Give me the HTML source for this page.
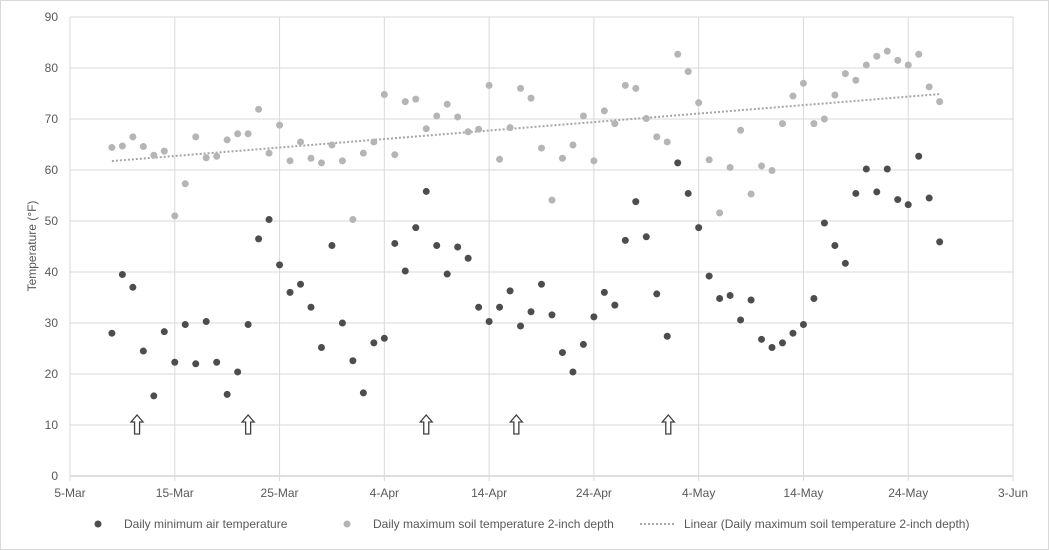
<!DOCTYPE html>
<html><head><meta charset="utf-8"><style>
html,body{margin:0;padding:0;background:#fff;}
svg{display:block;font-family:"Liberation Sans",sans-serif;}
</style></head><body>
<svg id="chart" width="1049" height="550">
<rect x="0.5" y="0.5" width="1048" height="549" fill="#fff" stroke="#d9d9d9"/>
<g id="grid"></g><g id="axes"></g><g id="marks"></g>
<text transform="translate(36,246) rotate(-90)" text-anchor="middle" font-size="12" fill="#595959">Temperature (°F)</text>
<g font-size="12" fill="#595959">
<g><circle cx="98" cy="524" r="3.5" fill="#4d4d4d"/><text x="124" y="528">Daily minimum air temperature</text></g>
<g><circle cx="347" cy="524" r="3.5" fill="#b5b5b5"/><text x="373" y="528">Daily maximum soil temperature 2-inch depth</text></g>
<g><line x1="640" y1="524" x2="675" y2="524" stroke="#a6a6a6" stroke-width="2" stroke-dasharray="2,2"/><text x="684" y="528">Linear (Daily maximum soil temperature 2-inch depth)</text></g>
</g>
</svg>
<script>
const yTicks=[0,10,20,30,40,50,60,70,80,90];
const xTickDays=[0,10,20,30,40,50,60,70,80,90];
const xTickLabels=["5-Mar","15-Mar","25-Mar","4-Apr","14-Apr","24-Apr","4-May","14-May","24-May","3-Jun"];
const firstDay=4;
const minAir=[28,39.5,37,24.5,15.7,28.3,22.3,29.7,22,30.3,22.3,16,20.4,29.7,46.5,50.3,41.4,36,37.6,33.1,25.2,45.2,30,22.6,16.3,26.1,27,45.6,40.2,48.7,55.8,45.2,39.6,44.9,42.7,33.1,30.3,33.1,36.3,29.4,32.2,37.6,31.6,24.2,20.4,25.8,31.2,36,33.5,46.2,53.8,46.9,35.7,27.4,61.4,55.4,48.7,39.2,34.8,35.4,30.6,34.5,26.8,25.2,26.1,28,29.7,34.8,49.6,45.2,41.7,55.4,60.2,55.7,60.2,54.2,53.2,62.7,54.5,45.9];
const maxSoil=[64.4,64.7,66.5,64.6,62.9,63.7,51,57.3,66.5,62.4,62.7,65.9,67.1,67.1,71.9,63.3,68.8,61.8,65.5,62.3,61.4,64.9,61.8,50.3,63.3,65.5,74.8,63,73.4,73.9,68.1,70.6,72.9,70.4,67.5,68,76.6,62.1,68.3,76,74.1,64.3,54.1,62.3,64.9,70.6,61.8,71.6,69.1,76.6,76,70.1,66.5,65.5,82.7,79.3,73.2,62,51.6,60.5,67.8,55.3,60.8,59.9,69.1,74.5,77,69.1,70,74.7,78.9,77.6,80.6,82.3,83.3,81.5,80.6,82.7,76.3,73.4];
const arrowDays=[6.4,17,34,42.6,57.1];
const arrowValue=10;
const NS="http://www.w3.org/2000/svg";
const X0=70,X1=1013,Y0=476,Y1=17;
const xs=d=>X0+(X1-X0)*d/90;
const ys=v=>Y0-(Y0-Y1)*v/90;
function mk(tag,attrs,parent){const e=document.createElementNS(NS,tag);for(const k in attrs)e.setAttribute(k,attrs[k]);parent.appendChild(e);return e;}
const grid=document.getElementById('grid'),axes=document.getElementById('axes'),marks=document.getElementById('marks');
yTicks.forEach(v=>{
 const l=mk('line',{x1:X0,x2:X1,y1:ys(v),y2:ys(v),stroke:v===0?'#bfbfbf':'#d9d9d9','stroke-width':1},grid);
 
 
 const t=mk('text',{x:58,y:ys(v)+4,'text-anchor':'end','font-size':12,fill:'#595959'},axes);
 t.textContent=v;
 
 
});
xTickDays.forEach((d,i)=>{
 const l=mk('line',{x1:xs(d),x2:xs(d),y1:Y1,y2:Y0+5,stroke:'#d9d9d9','stroke-width':1},grid);
 
 
 const t=mk('text',{x:xs(d),y:497,'text-anchor':'middle','font-size':12,fill:'#595959'},axes);
 t.textContent=xTickLabels[i];
 
 
});
// trendline via regression
let n=maxSoil.length,sx=0,sy=0,sxy=0,sxx=0;
maxSoil.forEach((v,i)=>{const d=firstDay+i;sx+=d;sy+=v;sxy+=d*v;sxx+=d*d;});
const slope=(n*sxy-sx*sy)/(n*sxx-sx*sx),icpt=(sy-slope*sx)/n;
const dA=firstDay,dB=firstDay+n-1;
const tl=mk('line',{x1:xs(dA),y1:ys(icpt+slope*dA),x2:xs(dB),y2:ys(icpt+slope*dB),stroke:'#a6a6a6','stroke-width':2,'stroke-dasharray':'2,2'},marks);


maxSoil.forEach((v,i)=>{
 const c=mk('circle',{cx:xs(firstDay+i),cy:ys(v),r:3.5,fill:'#b5b5b5'},marks);
 
 
});
minAir.forEach((v,i)=>{
 const c=mk('circle',{cx:xs(firstDay+i),cy:ys(v),r:3.5,fill:'#4d4d4d'},marks);
 
 
});
arrowDays.forEach(d=>{
 const cx=xs(d),cy=ys(arrowValue);
 const p=mk('path',{d:`M${cx} ${cy-10} L${cx+6} ${cy-3} L${cx+2.5} ${cy-3} L${cx+2.5} ${cy+9} L${cx-2.5} ${cy+9} L${cx-2.5} ${cy-3} L${cx-6} ${cy-3} Z`,fill:'#fff',stroke:'#404040','stroke-width':1.3},marks);
 
 
});
</script>
</body></html>
